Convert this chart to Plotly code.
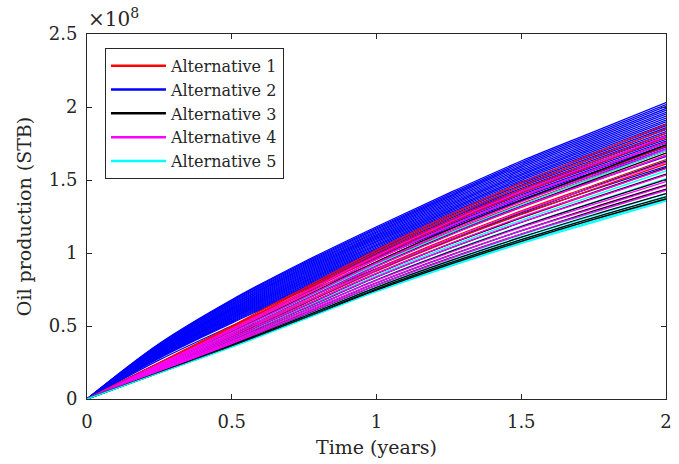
import plotly.graph_objects as go

# Time axis (years)
TIME = [0, 0.25, 0.5, 0.75, 1.0, 1.25, 1.5, 1.75, 2.0]

# Cumulative oil production, in units of 1e8 STB
ALT1_RED = [
    [0, .250, .500, .760, 1.020, 1.260, 1.480, 1.680, 1.880],
    [0, .246, .492, .748, 1.004, 1.240, 1.456, 1.653, 1.850],
    [0, .242, .484, .736, .988, 1.220, 1.432, 1.626, 1.820],
    [0, .238, .476, .724, .972, 1.200, 1.408, 1.599, 1.790],
    [0, .234, .468, .712, .956, 1.180, 1.384, 1.572, 1.760],
    [0, .230, .460, .700, .940, 1.160, 1.360, 1.545, 1.730],
    [0, .226, .452, .688, .924, 1.140, 1.336, 1.518, 1.700],
    [0, .222, .444, .676, .908, 1.120, 1.312, 1.491, 1.670],
    [0, .218, .436, .664, .892, 1.100, 1.288, 1.464, 1.640],
    [0, .214, .428, .652, .876, 1.080, 1.264, 1.437, 1.610],
    [0, .210, .420, .640, .860, 1.060, 1.240, 1.410, 1.580],
]
ALT2_BLUE = [
    [0, .380, .680, .940, 1.180, 1.410, 1.630, 1.830, 2.030],
    [0, .376, .674, .932, 1.171, 1.400, 1.619, 1.818, 2.017],
    [0, .372, .667, .924, 1.163, 1.390, 1.608, 1.806, 2.004],
    [0, .368, .661, .917, 1.154, 1.381, 1.597, 1.794, 1.990],
    [0, .364, .654, .909, 1.145, 1.371, 1.586, 1.782, 1.977],
    [0, .360, .648, .901, 1.137, 1.361, 1.575, 1.770, 1.964],
    [0, .356, .642, .893, 1.128, 1.351, 1.564, 1.758, 1.951],
    [0, .352, .635, .885, 1.119, 1.341, 1.553, 1.746, 1.938],
    [0, .348, .629, .878, 1.110, 1.332, 1.542, 1.734, 1.924],
    [0, .344, .622, .870, 1.102, 1.322, 1.531, 1.722, 1.911],
    [0, .340, .616, .862, 1.093, 1.312, 1.520, 1.710, 1.898],
    [0, .336, .610, .854, 1.084, 1.302, 1.509, 1.698, 1.885],
    [0, .332, .603, .846, 1.076, 1.292, 1.498, 1.686, 1.872],
    [0, .328, .597, .839, 1.067, 1.283, 1.487, 1.674, 1.858],
    [0, .324, .590, .831, 1.058, 1.273, 1.476, 1.662, 1.845],
    [0, .320, .584, .823, 1.050, 1.263, 1.465, 1.650, 1.832],
    [0, .316, .578, .815, 1.041, 1.253, 1.454, 1.638, 1.819],
    [0, .312, .571, .807, 1.032, 1.243, 1.443, 1.626, 1.806],
    [0, .308, .565, .800, 1.023, 1.234, 1.432, 1.614, 1.792],
    [0, .304, .558, .792, 1.015, 1.224, 1.421, 1.602, 1.779],
    [0, .300, .552, .784, 1.006, 1.214, 1.410, 1.590, 1.766],
    [0, .296, .546, .776, .997, 1.204, 1.399, 1.578, 1.753],
    [0, .292, .539, .768, .989, 1.194, 1.388, 1.566, 1.740],
    [0, .288, .533, .761, .980, 1.185, 1.377, 1.554, 1.726],
    [0, .284, .526, .753, .971, 1.175, 1.366, 1.542, 1.713],
    [0, .280, .520, .745, .963, 1.165, 1.355, 1.530, 1.700],
    [0, .268, .501, .722, .936, 1.136, 1.322, 1.494, 1.660],
    [0, .248, .469, .683, .893, 1.087, 1.267, 1.434, 1.594],
]
ALT3_BLACK = [
    [0, .230, .460, .700, .940, 1.160, 1.360, 1.550, 1.740],
    [0, .223, .445, .678, .911, 1.124, 1.318, 1.502, 1.685],
    [0, .215, .430, .655, .882, 1.088, 1.276, 1.454, 1.629],
    [0, .209, .418, .637, .858, 1.059, 1.242, 1.416, 1.585],
    [0, .203, .406, .619, .835, 1.030, 1.209, 1.377, 1.540],
    [0, .198, .396, .604, .815, 1.006, 1.181, 1.345, 1.503],
    [0, .193, .386, .589, .796, .982, 1.153, 1.313, 1.466],
    [0, .189, .378, .577, .780, .963, 1.130, 1.288, 1.437],
    [0, .185, .370, .565, .765, .944, 1.108, 1.262, 1.407],
    [0, .182, .364, .556, .753, .930, 1.091, 1.243, 1.385],
    [0, .180, .360, .550, .745, .920, 1.080, 1.230, 1.370],
]
ALT4_MAGENTA = [
    [0, .240, .480, .730, .980, 1.210, 1.420, 1.610, 1.800],
    [0, .234, .468, .712, .956, 1.180, 1.385, 1.570, 1.756],
    [0, .228, .456, .694, .932, 1.150, 1.350, 1.531, 1.711],
    [0, .222, .444, .676, .908, 1.120, 1.316, 1.491, 1.667],
    [0, .216, .432, .658, .884, 1.090, 1.281, 1.452, 1.622],
    [0, .210, .420, .640, .860, 1.060, 1.246, 1.412, 1.578],
    [0, .204, .408, .622, .836, 1.030, 1.211, 1.372, 1.534],
    [0, .198, .396, .604, .812, 1.000, 1.176, 1.333, 1.489],
    [0, .194, .388, .592, .796, .980, 1.153, 1.306, 1.460],
    [0, .190, .380, .580, .780, .960, 1.130, 1.280, 1.430],
]
ALT5_CYAN = [
    [0, .225, .450, .685, .920, 1.135, 1.330, 1.515, 1.700],
    [0, .216, .431, .657, .883, 1.089, 1.277, 1.454, 1.631],
    [0, .206, .412, .629, .846, 1.043, 1.224, 1.393, 1.562],
    [0, .199, .398, .608, .818, 1.009, 1.184, 1.347, 1.510],
    [0, .193, .385, .590, .794, .979, 1.150, 1.308, 1.465],
    [0, .188, .376, .576, .776, .956, 1.123, 1.277, 1.431],
    [0, .185, .369, .566, .763, .940, 1.105, 1.256, 1.407],
    [0, .183, .365, .559, .754, .928, 1.092, 1.240, 1.390],
    [0, .181, .361, .553, .746, .919, 1.081, 1.228, 1.376],
    [0, .179, .358, .549, .741, .912, 1.073, 1.219, 1.365],
    [0, .178, .355, .545, .735, .905, 1.065, 1.210, 1.355],
]

NAMES = ["Alternative 1", "Alternative 2", "Alternative 3", "Alternative 4", "Alternative 5"]
DATA = [ALT1_RED, ALT2_BLUE, ALT3_BLACK, ALT4_MAGENTA, ALT5_CYAN]
COLORS = ["#ff0000", "#0000ff", "#000000", "#ff00ff", "#00ffff"]

X_TICKS = [0, 0.5, 1, 1.5, 2]
X_LABELS = ["0", "0.5", "1", "1.5", "2"]
Y_TICKS = [0, 0.5, 1, 1.5, 2, 2.5]
Y_LABELS = ["0", "0.5", "1", "1.5", "2", "2.5"]

FONT = "DejaVu Serif"
TXT = "#262626"
LW = 1.3

fig = go.Figure()


def add_curve(k, i):
    fig.add_trace(go.Scatter(
        x=TIME, y=DATA[k][i], mode="lines",
        line=dict(color=COLORS[k], width=LW, shape="spline"),
        name=NAMES[k], legendgroup=NAMES[k], showlegend=False, hoverinfo="skip"))


# blue ensemble first, then red, then the remaining alternatives interleaved on top
for i in range(len(ALT2_BLUE)):
    add_curve(1, i)
for i in range(len(ALT1_RED)):
    add_curve(0, i)
order = [3, 2, 4]
for i in range(max(len(DATA[k]) for k in order)):
    for k in order:
        if i < len(DATA[k]):
            add_curve(k, i)

# legend entries (thicker sample lines)
for k, name in enumerate(NAMES):
    fig.add_trace(go.Scatter(
        x=[None], y=[None], mode="lines", line=dict(color=COLORS[k], width=2.5),
        name=name, legendgroup=name, showlegend=True, legendrank=k + 1))

axis_common = dict(
    showline=True, linecolor=TXT, linewidth=1, mirror="ticks",
    ticks="inside", ticklen=5, tickcolor=TXT, showgrid=False, zeroline=False,
    tickfont=dict(family=FONT, size=18, color=TXT),
)

fig.update_xaxes(range=[0, 2], tickvals=X_TICKS, ticktext=X_LABELS, ticklabelstandoff=6,
                 title=dict(text="Time (years)", font=dict(family=FONT, size=19, color=TXT), standoff=10),
                 **axis_common)
fig.update_yaxes(range=[0, 2.5], tickvals=Y_TICKS, ticktext=Y_LABELS, ticklabelstandoff=5,
                 title=dict(text="Oil production (STB)", font=dict(family=FONT, size=19, color=TXT), standoff=12),
                 **axis_common)

fig.add_annotation(xref="paper", yref="paper", x=0, y=1.0, xanchor="left", yanchor="bottom",
                   text="×10<sup>8</sup>", showarrow=False, yshift=1, xshift=-1,
                   font=dict(family=FONT, size=20, color=TXT))

fig.update_layout(
    width=679, height=464,
    margin=dict(l=87, r=7, t=34, b=65),
    paper_bgcolor="white", plot_bgcolor="white",
    showlegend=True,
    legend=dict(x=0.031, y=0.962, xanchor="left", yanchor="top",
                bgcolor="white", bordercolor=TXT, borderwidth=1,
                font=dict(family=FONT, size=16, color=TXT),
                tracegroupgap=0, itemwidth=55),
)

fig.write_html("out.html")
